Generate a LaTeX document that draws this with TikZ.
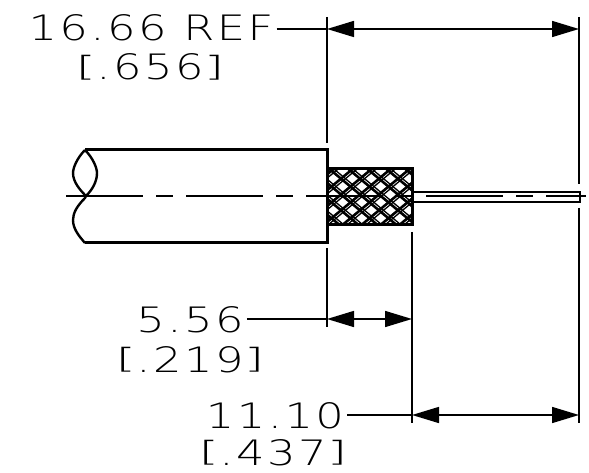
\documentclass[tikz,border=0pt]{standalone}
\usepackage{fontspec}
\usetikzlibrary{arrows.meta}
\newfontfamily\dimfont[LetterSpace=7,FakeStretch=1.28]{DejaVu Sans ExtraLight}
\newcommand{\lbrk}{\raisebox{3.6pt}{\scalebox{1.5}[1]{\fontsize{28}{28}\selectfont[}}}
\newcommand{\rbrk}{\raisebox{3.6pt}{\scalebox{1.5}[1]{\fontsize{28}{28}\selectfont]}}}
\tikzset{
  dimtext/.style={anchor=base,inner ysep=0pt,inner xsep=3pt,font=\dimfont\fontsize{35}{35}\selectfont},
  outline/.style={line width=3pt,line join=miter},
  squiggle/.style={line width=2.4pt},
  thinline/.style={line width=1.5pt},
  dimline/.style={line width=1.5pt,{Triangle[length=27pt,width=16pt]}-{Triangle[length=27pt,width=16pt]}},
}
\begin{document}
\begin{tikzpicture}[x=1pt,y=-1pt]
\useasboundingbox (0,0) rectangle (589,473);

% dimension texts
\node[dimtext] (refmm) at (151,41) {16.66 REF};
\node[dimtext] (refin) at (150,80) {\lbrk.656\rbrk};
\node[dimtext] (braidmm) at (190,332) {5.56};
\node[dimtext] (braidin) at (190,372) {\lbrk.219\rbrk};
\node[dimtext] (wiremm) at (275,428) {11.10};
\node[dimtext] (wirein) at (273,465) {\lbrk.437\rbrk};

% points on the extension lines
\coordinate (jackettop) at (327,17);
\coordinate (jacketup) at (327,143);
\coordinate (jacketdown) at (327,248);
\coordinate (jacketbot) at (327,327);
\coordinate (braiddown) at (412,232);
\coordinate (braidbot) at (412,423);
\coordinate (wiretop) at (579,17);
\coordinate (wireup) at (579,184);
\coordinate (wiredown) at (579,208);
\coordinate (wirebot) at (579,423);

\coordinate (refleft) at (327,29);
\coordinate (refright) at (579,29);
\coordinate (braidleft) at (327,319);
\coordinate (braidright) at (412,319);
\coordinate (wireleft) at (412,415);
\coordinate (wireright) at (579,415);

% jacket
\coordinate (jta) at (85,150);
\coordinate (jtb) at (327,150);
\coordinate (jbb) at (327,243);
\coordinate (jba) at (85,243);
\coordinate (jmid) at (86,196);
\draw[outline] (jta) -- (jtb) -- (jbb) -- (jba);
\draw[squiggle] (jta) .. controls (77,158) and (73,168) .. (73,173) .. controls (73,182) and (80,190) .. (jmid);
\draw[squiggle] (jta) .. controls (93,158) and (97,168) .. (97,173) .. controls (97,182) and (92,190) .. (jmid);
\draw[squiggle] (jmid) -- (85,198) .. controls (77,206) and (73,213) .. (73,220) .. controls (73,229) and (79,236) .. (jba);

% braid
\coordinate (ba) at (327,169);
\coordinate (bb) at (412,225);
\begin{scope}
\clip (ba) rectangle (bb);
\foreach \i in {-8,...,8} {
  \draw[line width=2.6pt] (327+\i*19,167) -- ++(72,60);
  \draw[line width=1.3pt] (327+\i*19+4.5,167) -- ++(72,60);
  \draw[line width=2.6pt] (412+\i*19,167) -- ++(-72,60);
  \draw[line width=1.3pt] (412+\i*19+4.5,167) -- ++(-72,60);
}
\end{scope}
\draw[outline] (ba) rectangle (bb);

% wire
\coordinate (wa) at (412,192);
\coordinate (wb) at (580,192);
\coordinate (wc) at (580,202);
\coordinate (wd) at (412,202);
\draw[line width=2.4pt] (wa) -- (wb) -- (wc) -- (wd);

% center line
\coordinate (cl) at (66,196);
\coordinate (cr) at (586,196);
\draw[thinline,dash pattern=on 77pt off 13pt on 17pt off 13pt] (cl) -- (cr);

% extension lines
\draw[thinline] (jackettop) -- (jacketup);
\draw[thinline] (jacketdown) -- (jacketbot);
\draw[thinline] (braiddown) -- (braidbot);
\draw[thinline] (wiretop) -- (wireup);
\draw[thinline] (wiredown) -- (wirebot);

% leaders and dimension lines
\draw[thinline] (refmm.east |- refleft) -- (refleft);
\draw[dimline] (refleft) -- (refright);
\draw[thinline] (braidmm.east |- braidleft) -- (braidleft);
\draw[dimline] (braidleft) -- (braidright);
\draw[thinline] (wiremm.east |- wireleft) -- (wireleft);
\draw[dimline] (wireleft) -- (wireright);
\end{tikzpicture}
\end{document}
